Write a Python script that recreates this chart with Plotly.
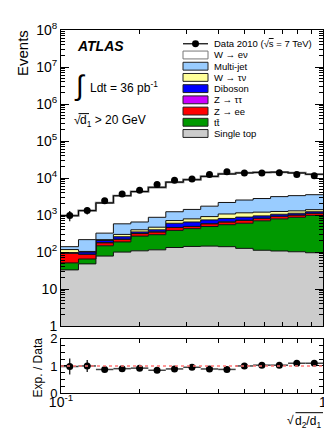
import numpy as np
import plotly.graph_objects as go

# Binning in sqrt(d2/d1): 15 equal bins in log10 between 0.1 and 1
bin_edges = np.logspace(-1, 0, 16)
bin_centers = np.sqrt(bin_edges[:-1] * bin_edges[1:])

# Observed events
data_events = [980, 1320, 2450, 3700, 4700, 6700, 8700, 9500, 12500, 14800, 13800, 13800, 14000, 12500, 11500]
data_err = [300, 280, 80, 70, 70, 70, 70, 70, 80, 80, 80, 80, 80, 80, 80]
ratio_err = [0.30, 0.22, 0.04, 0.03, 0.03, 0.03, 0.03, 0.03, 0.03, 0.03, 0.03, 0.03, 0.03, 0.03, 0.03]

# Expected contributions, stacked bottom -> top
single_top = [33, 48, 78, 100, 108, 115, 133, 142, 145, 140, 126, 112, 107, 102, 96]
ttbar = [18, 17, 70, 88, 162, 180, 252, 288, 345, 410, 474, 588, 683, 768, 884]
z_ee = [42, 22, 30, 34, 46, 55, 75, 60, 90, 100, 120, 120, 140, 130, 140]
z_tautau = [1, 1, 2, 2, 2, 2, 3, 4, 5, 5, 5, 6, 6, 7, 8]
diboson = [3, 12, 25, 36, 32, 48, 137, 156, 155, 155, 155, 124, 114, 113, 102]
w_taunu = [20, 4, 12, 40, 50, 70, 110, 140, 170, 260, 270, 250, 200, 180, 170]
multijet = [23, 113, 108, 280, 250, 400, 520, 630, 830, 1120, 1400, 1600, 1900, 2050, 2150]
w_enu = [820, 1103, 1805, 2750, 3670, 4760, 6510, 7610, 9360, 10710, 11250, 11400, 11250, 10400, 9100]

stack = [
    ("Single top", single_top, "#cccccc"),
    ("tt\u0304", ttbar, "#009900"),
    ("Z \u2192 ee", z_ee, "#ff0000"),
    ("Z \u2192 \u03c4\u03c4", z_tautau, "#cc00ff"),
    ("Diboson", diboson, "#0000ff"),
    ("W \u2192 \u03c4\u03bd", w_taunu, "#ffff99"),
    ("Multi-jet", multijet, "#99ccff"),
    ("W \u2192 e\u03bd", w_enu, "#ffffff"),
]

FONT = "Liberation Sans, Arial, Helvetica, sans-serif"


def steps(vals):
    return list(vals) + [vals[-1]]


fig = go.Figure()

# invisible base at the bottom of the log axis
fig.add_trace(go.Scatter(x=bin_edges, y=np.ones(16), mode="lines", line=dict(width=0),
                         line_shape="hv", showlegend=False, hoverinfo="skip",
                         xaxis="x2", yaxis="y2"))

cum = np.zeros(15)
for name, vals, color in stack:
    cum = cum + np.array(vals, dtype=float)
    is_top = name.startswith("W \u2192 e")
    fig.add_trace(go.Scatter(
        x=bin_edges, y=steps(cum), mode="lines", line_shape="hv",
        fill="tonexty", fillcolor=color,
        line=dict(color="#777777" if is_top else "#111111", width=2.2 if is_top else 1),
        name=name, showlegend=False, xaxis="x2", yaxis="y2"))
total_exp = cum

# black outline of the total expectation
fig.add_trace(go.Scatter(x=bin_edges, y=steps(total_exp), mode="lines", line_shape="hv",
                         line=dict(color="black", width=1), showlegend=False,
                         xaxis="x2", yaxis="y2"))

# data points
fig.add_trace(go.Scatter(
    x=bin_centers, y=data_events, mode="markers",
    marker=dict(color="black", size=7),
    error_y=dict(type="data", array=data_err, color="black", thickness=1.2, width=0),
    showlegend=False, xaxis="x2", yaxis="y2"))

# ratio panel
ratio = total_exp / np.array(data_events)
fig.add_trace(go.Scatter(
    x=bin_centers, y=ratio, mode="markers",
    marker=dict(color="black", size=7),
    error_y=dict(type="data", array=ratio_err, color="black", thickness=1.2, width=0),
    error_x=dict(type="data", symmetric=False,
                 array=bin_edges[1:] - bin_centers, arrayminus=bin_centers - bin_edges[:-1],
                 color="#444444", thickness=1.5, width=0),
    showlegend=False, xaxis="x", yaxis="y"))

# pixel helpers for the page layout (plot area: x 53..315, y 16..385)
L, R, T, B = 53, 17, 16, 45
W, H = 332, 430
PW, PH = W - L - R, H - T - B


def px(x):
    return (x - L) / PW


def py(y):
    return (H - B - y) / PH


x_minor = [m * 10.0 ** e for e in (-1,) for m in range(2, 10)]
y_minor = [m * 10.0 ** e for e in range(0, 8) for m in range(2, 10)]

axis_common = dict(showline=True, linecolor="black", linewidth=1, mirror="allticks",
                   ticks="inside", tickcolor="black", showgrid=False, zeroline=False)

fig.update_layout(
    width=W, height=H,
    margin=dict(l=L, r=R, t=T, b=B),
    paper_bgcolor="white", plot_bgcolor="white",
    font=dict(family=FONT, color="black"),
    showlegend=False,
    xaxis=dict(type="log", range=[-1, 0], domain=[0, 1], anchor="y",
               tickvals=[0.1, 1], ticktext=["10<sup>-1</sup>", "1"], ticklen=8,
               tickfont=dict(size=14), ticklabelstandoff=-4,
               minor=dict(tickvals=x_minor, ticks="inside", ticklen=4, tickcolor="black"),
               **axis_common),
    yaxis=dict(range=[0, 2], domain=[0, py(330)], anchor="x",
               tickvals=[0, 1, 2], ticklen=8, tickfont=dict(size=13),
               minor=dict(dtick=0.25, ticks="inside", ticklen=4, tickcolor="black"),
               **axis_common),
    xaxis2=dict(type="log", range=[-1, 0], domain=[0, 1], anchor="y2", matches="x",
                tickvals=[0.1, 1], showticklabels=False, ticklen=8,
                minor=dict(tickvals=x_minor, ticks="inside", ticklen=4, tickcolor="black"),
                **axis_common),
    yaxis2=dict(type="log", range=[0, 8], domain=[py(317), 1], anchor="x2",
                tickvals=[10 ** k for k in range(9)],
                ticktext=["1", "10"] + ["10<sup>%d</sup>" % k for k in range(2, 9)],
                ticklen=8, tickfont=dict(size=14),
                minor=dict(tickvals=y_minor, ticks="inside", ticklen=4, tickcolor="black"),
                **axis_common),
)

# reference line at ratio 1
fig.add_shape(type="line", xref="x domain", yref="y", x0=0, x1=1, y0=1, y1=1,
              line=dict(color="#ff7777", width=1.5, dash="dot"))


def overline(x0, x1, y):
    fig.add_shape(type="line", xref="paper", yref="paper", x0=px(x0), x1=px(x1),
                  y0=py(y), y1=py(y), line=dict(color="black", width=1))


ann = []
ann.append(dict(text="<b><i>ATLAS</i></b>", x=px(67), y=py(32), xanchor="left", yanchor="middle",
                font=dict(size=14)))
ann.append(dict(text="\u222b", x=px(64), y=py(72), xanchor="left", yanchor="middle",
                font=dict(size=28)))
ann.append(dict(text="Ldt = 36 pb<sup>-1</sup>", x=px(80), y=py(74), xanchor="left",
                yanchor="middle", font=dict(size=12)))
# sqrt(d1) > 20 GeV
ann.append(dict(text="\u221a", x=px(64), y=py(107), xanchor="left", yanchor="middle",
                font=dict(size=12)))
ann.append(dict(text="d<sub>1</sub> > 20 GeV", x=px(70), y=py(109), xanchor="left",
                yanchor="middle", font=dict(size=12)))
overline(70.5, 81, 101)
ann.append(dict(text="Events", x=px(14), y=py(14), xanchor="center", yanchor="top",
                textangle=-90, font=dict(size=15)))
ann.append(dict(text="Exp. / Data", x=px(30), y=py(359), xanchor="center", yanchor="middle",
                textangle=-90, font=dict(size=12)))
# x title sqrt(d2/d1)
ann.append(dict(text="d<sub>2</sub>/d<sub>1</sub>", x=px(315), y=py(414), xanchor="right",
                yanchor="middle", font=dict(size=12)))
ann.append(dict(text="\u221a", x=px(288), y=py(412), xanchor="right", yanchor="middle",
                font=dict(size=12)))
overline(287.5, 315, 405)

# legend drawn by hand (ROOT-like compact spacing)
leg_x0, leg_x1, leg_text = 175, 200, 204
leg_y0, leg_dy = 30, 11.4
ann.append(dict(text="Data 2010 (\u221a<span style='text-decoration:overline'>s</span> = 7 TeV)",
                x=px(leg_text), y=py(leg_y0), xanchor="left", yanchor="middle",
                font=dict(size=9.5)))
fig.add_shape(type="line", xref="paper", yref="paper", x0=px(leg_x0), x1=px(leg_x1),
              y0=py(leg_y0), y1=py(leg_y0), line=dict(color="black", width=1.2))
fig.add_shape(type="circle", xref="paper", yref="paper",
              x0=px((leg_x0 + leg_x1) / 2 - 3.5), x1=px((leg_x0 + leg_x1) / 2 + 3.5),
              y0=py(leg_y0 - 3.5), y1=py(leg_y0 + 3.5),
              fillcolor="black", line=dict(color="black", width=0))
for i, (name, vals, color) in enumerate(reversed(stack)):
    yc = leg_y0 + leg_dy * (i + 1)
    fig.add_shape(type="rect", xref="paper", yref="paper",
                  x0=px(leg_x0), x1=px(leg_x1), y0=py(yc + 4), y1=py(yc - 4),
                  fillcolor=color, line=dict(color="#777777" if color == "#ffffff" else "#222222", width=1))
    ann.append(dict(text=name, x=px(leg_text), y=py(yc), xanchor="left", yanchor="middle",
                    font=dict(size=9.5)))

for a in ann:
    a.update(xref="paper", yref="paper", showarrow=False)
    fig.add_annotation(**a)

fig.write_html("out.html")
